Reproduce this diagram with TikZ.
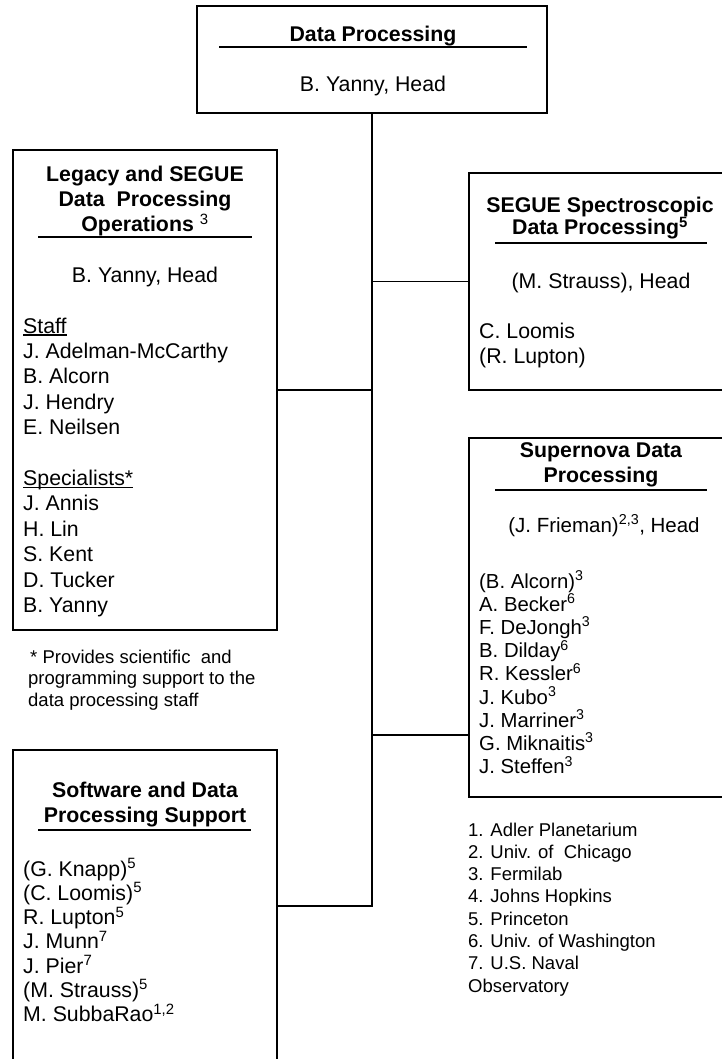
\documentclass[tikz,border=0pt]{standalone}
\usepackage{fontspec}
\setmainfont{Liberation Sans}
% underline drawn just under the baseline, through descenders
\newcommand\wordul[1]{\setbox0\hbox{#1}\rlap{\rule[-2.6pt]{\wd0}{1.3pt}}#1}
\begin{document}
\begin{tikzpicture}[x=1pt,y=-1pt,
  unitbox/.style={draw, line width=1.6pt, inner sep=0pt},
  rule/.style={line width=1.4pt},
  link/.style={line width=1.6pt},
  ttl/.style={font=\fontsize{21.3}{25}\selectfont\bfseries, anchor=base, inner sep=0pt},
  ctr/.style={font=\fontsize{21.3}{25}\selectfont, anchor=base, inner sep=0pt},
  lst/.style={font=\fontsize{21.3}{25}\selectfont, anchor=base west, inner sep=0pt},
  lstsm/.style={font=\fontsize{20.3}{24}\selectfont, anchor=base west, inner sep=0pt},
  note/.style={font=\fontsize{18.5}{22}\selectfont, anchor=base west, inner sep=0pt}]

\useasboundingbox (0,0) rectangle (722,1059);
\clip (0,0) rectangle (722,1059);
\fill[white] (0,0) rectangle (722,1059);

% ---------- unit boxes ----------
\node[unitbox, minimum width=350pt, minimum height=107pt] (top)    at (372,59.5) {};
\node[unitbox, minimum width=264pt, minimum height=480pt] (legacy) at (145,390) {};
\node[unitbox, minimum width=271pt, minimum height=217pt] (segue)  at (604.5,281.5) {};
\node[unitbox, minimum width=271pt, minimum height=359pt] (super)  at (604.5,617.5) {};
\node[unitbox, minimum width=264pt, minimum height=312pt] (soft)   at (145,906) {};

% ---------- connectors ----------
\coordinate (jsuper) at (372,735);
\draw[link] (top.south) -- (top.south |- soft.east) -- (soft.east);
\draw[link] (legacy.east) -- (legacy.east -| top.south);
\draw[link] (segue.west) -- (segue.west -| top.south);
\draw[link] (jsuper) -- (jsuper -| super.west);

% ---------- Data Processing ----------
\node[ttl] (topT) at (373,42) {Data Processing};
\draw[rule] (219,47) -- (527,47);
\node[ctr] (topH) at (373,92) {B. Yanny, Head};

% ---------- Legacy and SEGUE ----------
\node[ttl] (legT1) at (145,182) {Legacy and SEGUE};
\node[ttl] (legT2) at (145,207) {Data~~Processing};
\node[ttl] (legT3) at (145,232) {Operations \textsuperscript{\mdseries 3}};
\draw[rule] (38,237) -- (252,237);
\node[ctr] (legH) at (145,282) {B. Yanny, Head};
\node[lst] (legS) at (23,333) {\wordul{Staff}};
\foreach \t [count=\i from 0] in {J. Adelman-McCarthy, B. Alcorn, J. Hendry, E. Neilsen}
  \node[lst] (staff\i) at (23,{358.4+25.4*\i}) {\t};
\node[lst] (legP) at (23,485.4) {\wordul{Specialists*}};
\foreach \t [count=\i from 0] in {J. Annis, H. Lin, S. Kent, D. Tucker, B. Yanny}
  \node[lst] (spec\i) at (23,{510.8+25.4*\i}) {\t};

% footnote
\node[note] (fn1) at (30,663)   {* Provides scientific~~and};
\node[note] (fn2) at (28,684.5) {programming support to the};
\node[note] (fn3) at (28,706)   {data processing staff};

% ---------- SEGUE Spectroscopic ----------
\node[ttl] (segT1) at (600,213) {SEGUE Spectroscopic};
\node[ttl] (segT2) at (600,235) {Data Processing\textsuperscript{5}};
\draw[rule] (495,243) -- (707,243);
\node[ctr] (segH) at (601,288) {(M. Strauss), Head};
\node[lst] (seg1) at (479,338) {C. Loomis};
\node[lst] (seg2) at (479,363) {(R. Lupton)};

% ---------- Supernova ----------
\node[ttl] (supT1) at (601,457) {Supernova Data};
\node[ttl] (supT2) at (601,482) {Processing};
\draw[rule] (495,490) -- (707,490);
\node[ctr, font=\fontsize{20.5}{24}\selectfont] (supH) at (604,532) {(J. Frieman)\textsuperscript{2,3}, Head};
\foreach \t [count=\i from 0] in {(B. Alcorn)\textsuperscript{3}, A. Becker\textsuperscript{6},
    F. DeJongh\textsuperscript{3}, B. Dilday\textsuperscript{6}, R. Kessler\textsuperscript{6},
    J. Kubo\textsuperscript{3}, J. Marriner\textsuperscript{3}, G. Miknaitis\textsuperscript{3},
    J. Steffen\textsuperscript{3}}
  \node[lstsm] (sn\i) at (479,{588+23.2*\i}) {\t};

% ---------- affiliations ----------
\foreach \t [count=\i from 0] in {1. Adler Planetarium, 2. Univ. of~~Chicago, 3. Fermilab,
    4. Johns Hopkins, 5. Princeton, 6. Univ. of Washington, 7. U.S. Naval, Observatory}
  \node[note] (aff\i) at (468,{836+22.3*\i}) {\t};

% ---------- Software and Data Processing Support ----------
\node[ttl] (sofT1) at (145,797) {Software and Data};
\node[ttl] (sofT2) at (145,822) {Processing Support};
\draw[rule] (38,830) -- (251,830);
\foreach \t [count=\i from 0] in {(G. Knapp)\textsuperscript{5}, (C. Loomis)\textsuperscript{5},
    R. Lupton\textsuperscript{5}, J. Munn\textsuperscript{7}, J. Pier\textsuperscript{7},
    (M. Strauss)\textsuperscript{5}, {M. SubbaRao\textsuperscript{1,2}}}
  \node[lst] (sw\i) at (23,{876+24.3*\i}) {\t};

\end{tikzpicture}
\end{document}
